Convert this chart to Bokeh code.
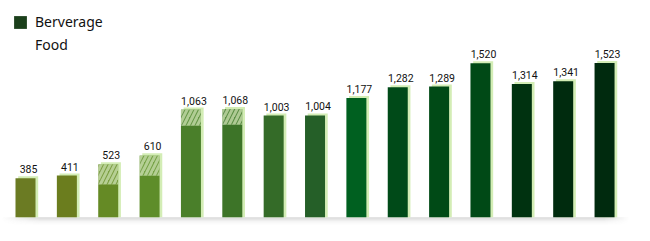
import numpy as np
from bokeh.plotting import figure
from bokeh.models import ColumnDataSource, Legend, LegendItem, Range1d
from bokeh.embed import file_html
from bokeh.resources import INLINE
from bokeh.core.properties import value

# ---- data ----
totals = [385, 411, 523, 610, 1063, 1068, 1003, 1004, 1177, 1282, 1289, 1520, 1314, 1341, 1523]
food = [0, 0, 197, 199, 158, 153, 0, 0, 0, 0, 0, 0, 0, 0, 0]
beverage = [t - f for t, f in zip(totals, food)]
labels = [f"{t:,}" for t in totals]
bar_colors = ["#6b7b23", "#6b7d1e", "#658a25", "#5e8d2a", "#4a7f2a", "#3d7428",
              "#346b28", "#255f28", "#006020", "#004a18", "#004a16", "#004916",
              "#003210", "#002b0e", "#002a0e"]
series_names = ["Berverage", "Food"]

idx = list(range(len(totals)))
BW = 0.4836
src = ColumnDataSource(dict(
    x=idx, xs=[i + 0.065 for i in idx], bev=beverage, tot=totals, tot_up=[t + 20 for t in totals],
    col=bar_colors, lab=labels,
))

p = figure(width=650, height=241, output_backend="svg", toolbar_location=None,
           x_range=Range1d(-0.6045, 15.111), y_range=Range1d(-240, 2139),
           x_axis_location=None, y_axis_location=None, min_border=0)
p.grid.visible = False
p.outline_line_color = None
p.background_fill_color = "white"
p.border_fill_color = "white"

# baseline shadow gradient
H, W = 12, 650
img = np.zeros((H, W), dtype=np.uint32)
view = img.view(dtype=np.uint8).reshape((H, W, 4))
xs_ = np.linspace(0, 1, W)
hfade = np.clip(np.minimum(xs_ / 0.06, (1 - xs_) / 0.04), 0, 1)
for r in range(H):
    t = r / (H - 1)  # 0 bottom, 1 top (near baseline)
    a = (t ** 2) * 0.32
    view[r, :, 0] = 120
    view[r, :, 1] = 120
    view[r, :, 2] = 120
    view[r, :, 3] = (255 * a * hfade).astype(np.uint8)
p.image_rgba(image=[img], x=-0.6045, y=-95, dw=15.2, dh=95)

# light-green offset backing
p.vbar(x="xs", width=BW, bottom=0, top="tot_up", source=src, fill_color="#d3edb5", line_color=None)
# beverage bars
r_bev = p.vbar(x="x", width=BW, bottom=0, top="bev", source=src, fill_color="col", line_color=None)
# food (hatched)
r_food = p.vbar(x="x", width=BW, bottom="bev", top="tot", source=src, fill_color="col", fill_alpha=0.8,
                line_color=None, hatch_pattern="/", hatch_color="#c9dfae", hatch_alpha=0.75,
                hatch_scale=9, hatch_weight=3)

# value labels
p.text(x="x", y="tot", text="lab", source=src, x_offset=3, y_offset=-5,
       text_align="center", text_baseline="bottom", text_font=value("Roboto"),
       text_font_size="10.5px", text_color="#111111")

# legend
leg_bev = p.quad(left=[0], right=[0.1], bottom=[-2000], top=[-1990], fill_color="#1b3f1b", line_color=None)
leg_food = p.quad(left=[0], right=[0.1], bottom=[-2000], top=[-1990], fill_alpha=0, line_alpha=0)
legend = Legend(items=[LegendItem(label=series_names[0], renderers=[leg_bev]),
                       LegendItem(label=series_names[1], renderers=[leg_food])],
                location="top_left", margin=0, padding=12, spacing=4,
                glyph_width=16, glyph_height=16, label_height=16, label_standoff=7,
                label_text_font="Noto Sans", label_text_font_size="14px",
                label_text_color="#111111",
                background_fill_alpha=0, border_line_alpha=0)
p.add_layout(legend)

open("out.html", "w").write(file_html(p, INLINE))
